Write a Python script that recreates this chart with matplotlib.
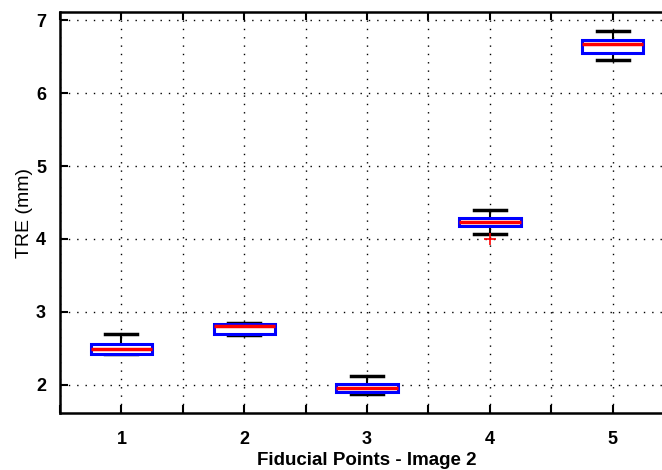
import matplotlib
matplotlib.use("Agg")
import matplotlib.pyplot as plt
import numpy as np

positions = [1, 2, 3, 4, 5]
whislo = [2.43, 2.685, 1.88, 4.07, 6.45]
q1 = [2.43, 2.70, 1.90, 4.18, 6.55]
med = [2.49, 2.81, 1.96, 4.23, 6.67]
q3 = [2.56, 2.835, 2.01, 4.29, 6.73]
whishi = [2.70, 2.855, 2.12, 4.40, 6.85]
fliers = [[], [], [], [4.0], []]
xlabels = ["1", "2", "3", "4", "5"]

plt.rcParams['font.family'] = ['Liberation Sans', 'DejaVu Sans']

fig = plt.figure(figsize=(6.62, 4.70), dpi=100)
ax = fig.add_axes([60/662, 1-413/470, 614/662, 401/470])

stats = []
for i in range(len(positions)):
    stats.append(dict(med=med[i], q1=q1[i], q3=q3[i], whislo=whislo[i],
                      whishi=whishi[i], fliers=fliers[i]))

ax.bxp(stats, positions=positions, widths=0.5, capwidths=0.26, patch_artist=True,
       boxprops=dict(facecolor='white', edgecolor='#0000ff', linewidth=2.2, zorder=3),
       medianprops=dict(color='#ff0000', linewidth=2.5, zorder=4),
       whiskerprops=dict(color='black', linewidth=1.5, zorder=2.5),
       capprops=dict(color='black', linewidth=2.5, zorder=2.5),
       flierprops=dict(marker='+', markeredgecolor='#ff0000', markersize=8,
                       markeredgewidth=1.2, linestyle='none', zorder=4))

ax.set_xlim(0.5, 5.5)
ax.set_ylim(1.616, 7.11)
xt = np.arange(0.5, 5.51, 0.5)
ax.set_xticks(xt)
ax.set_xticklabels([xlabels[int(v)-1] if float(v).is_integer() and 1 <= v <= 5 else "" for v in xt])
ax.set_yticks([2, 3, 4, 5, 6, 7])
ax.tick_params(axis='x', pad=13)
ax.tick_params(axis='y', pad=10)
ax.tick_params(direction='in', length=6, width=1.5, top=True, right=True,
               labelsize=13)
for lab in ax.get_xticklabels() + ax.get_yticklabels():
    lab.set_fontweight('bold')
for s in ax.spines.values():
    s.set_linewidth(1.8)
ax.grid(True, color='black', linestyle=(0, (1, 5)), linewidth=1)
ax.set_axisbelow(True)
ax.set_xlabel("Fiducial Points - Image 2", fontsize=13.5, fontweight='bold', labelpad=3)
ax.set_ylabel("TRE (mm)", fontsize=14, labelpad=2)

fig.savefig("out.png", dpi=100)
